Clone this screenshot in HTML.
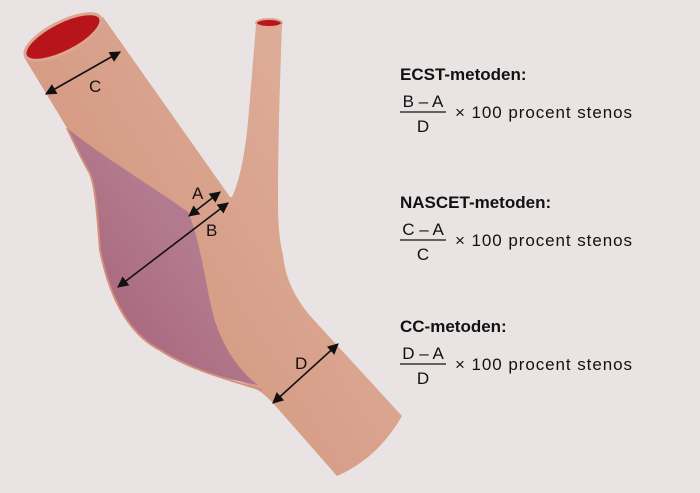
<!DOCTYPE html>
<html><head><meta charset="utf-8"><style>
html,body{margin:0;padding:0;background:#e9e4e3;}
svg{display:block}
</style></head><body>
<svg width="700" height="493" viewBox="0 0 700 493" xmlns="http://www.w3.org/2000/svg">
<defs>
<linearGradient id="v" x1="0" y1="0" x2="400" y2="-250" gradientUnits="userSpaceOnUse">
<stop offset="0" stop-color="#d69c86"/><stop offset="0.5" stop-color="#deae99"/><stop offset="1" stop-color="#d49b85"/>
</linearGradient>
<linearGradient id="p" x1="0" y1="1" x2="1" y2="0">
<stop offset="0" stop-color="#a45c72"/><stop offset="0.6" stop-color="#b37b8f"/><stop offset="1" stop-color="#a86b80"/>
</linearGradient>
<marker id="ah" viewBox="0 0 10 10" refX="9" refY="5" markerWidth="7" markerHeight="7" orient="auto-start-reverse">
<path d="M0,0 L10,5 L0,10 z" fill="#111"/></marker>
</defs>
<rect width="700" height="493" fill="#e9e4e3"/>
<path d="M24,57 L67,128 C80,150 88,160 92,180 C98,220 105,270 122,310 C140,350 180,362 230,378 C255,386 262,392 272,402 L337,476 Q378,458 402,416 L312,318 C292,295 285,275 283,255 C279,240 278,220 278,200 C278,140 280,80 282,25 L256,25 L249,110 C246,150 240,180 232,197 L230,197 L103,17 Z" fill="url(#v)"/>
<ellipse cx="269" cy="23" rx="13" ry="4" fill="#b8141b" stroke="#dca791" stroke-width="2"/>
<path d="M67,128 C100,155 150,185 188,212 C200,240 205,280 212,310 C220,345 240,372 258,385 C230,380 190,370 160,350 C130,335 110,300 100,250 C97,210 95,180 88,170 C82,160 75,145 67,128 Z" fill="url(#p)"/>
<path d="M67,128 C75,145 82,160 88,170 C95,180 97,210 100,250 C110,300 130,335 160,350 C190,370 230,380 262,390" fill="none" stroke="#d2907a" stroke-width="2"/>
<ellipse cx="63" cy="37" rx="42" ry="15" transform="rotate(-27 63 37)" fill="#b8141b" stroke="#dca791" stroke-width="3"/>
<g stroke="#111" stroke-width="1.6" fill="none" marker-start="url(#ah)" marker-end="url(#ah)">
<line x1="46" y1="94" x2="120" y2="52"/>
<line x1="189" y1="216" x2="220" y2="192"/>
<line x1="118" y1="287" x2="228" y2="203"/>
<line x1="273" y1="403" x2="338" y2="344"/>
</g>
<g font-family="Liberation Sans, sans-serif" font-size="17" fill="#111">
<text x="89" y="92">C</text>
<text x="192" y="199">A</text>
<text x="206" y="236">B</text>
<text x="295" y="369">D</text>
</g>
<g font-family="Liberation Sans, sans-serif" fill="#111">
<text x="400" y="80" font-size="17" font-weight="bold">ECST-metoden:</text>
<text x="423" y="107" font-size="17" text-anchor="middle">B – A</text>
<line x1="400" y1="112" x2="446" y2="112" stroke="#111" stroke-width="1.2"/>
<text x="423" y="132" font-size="17" text-anchor="middle">D</text>
<text x="455" y="118" font-size="17" textLength="177">× 100 procent stenos</text>

<text x="400" y="208" font-size="17" font-weight="bold">NASCET-metoden:</text>
<text x="423" y="235" font-size="17" text-anchor="middle">C – A</text>
<line x1="400" y1="240" x2="446" y2="240" stroke="#111" stroke-width="1.2"/>
<text x="423" y="260" font-size="17" text-anchor="middle">C</text>
<text x="455" y="246" font-size="17" textLength="177">× 100 procent stenos</text>

<text x="400" y="332" font-size="17" font-weight="bold">CC-metoden:</text>
<text x="423" y="359" font-size="17" text-anchor="middle">D – A</text>
<line x1="400" y1="364" x2="446" y2="364" stroke="#111" stroke-width="1.2"/>
<text x="423" y="384" font-size="17" text-anchor="middle">D</text>
<text x="455" y="370" font-size="17" textLength="177">× 100 procent stenos</text>
</g>
</svg>
</body></html>
